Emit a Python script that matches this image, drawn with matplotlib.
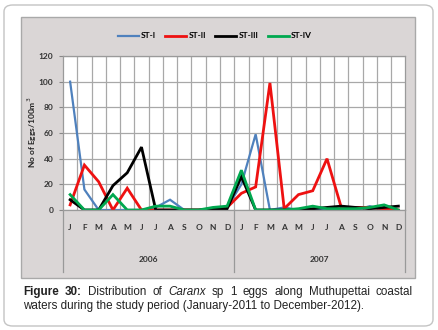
import numpy as np
import matplotlib
matplotlib.use('Agg')
import matplotlib.pyplot as plt
from matplotlib.patches import FancyBboxPatch, Rectangle

# dados
meses = ['J', 'F', 'M', 'A', 'M', 'J', 'J', 'A', 'S', 'O', 'N', 'D'] * 2
anos = ['2006', '2007']
series = ['ST-I', 'ST-II', 'ST-III', 'ST-IV']
st1 = [100, 16, 0, 0, 0, 0, 2, 8, 0, 0, 0, 2, 20, 59, 0, 2, 0, 0, 0, 0, 0, 3, 0, 0]
st2 = [4, 35, 22, 0, 17, 0, 0, 0, 0, 0, 0, 2, 13, 18, 99, 1, 12, 15, 40, 2, 2, 2, 1, 0]
st3 = [8, 0, 0, 19, 29, 49, 0, 0, 0, 0, 1, 1, 26, 0, 0, 0, 0, 1, 2, 3, 2, 1, 2, 3]
st4 = [12, 0, 0, 12, 0, 0, 3, 3, 0, 0, 2, 3, 31, 0, 0, 0, 1, 3, 1, 1, 1, 2, 4, 0]
cores = ['#4f81bd', '#ee1111', '#000000', '#00a84f']
larguras = [1.6, 2.0, 2.0, 2.0]

W, H = 439, 330
fig = plt.figure(figsize=(W / 100, H / 100), dpi=100)
fig.patch.set_facecolor('white')

# moldura arredondada externa
fig.patches.append(FancyBboxPatch((4 / W, 4 / H), 429 / W, 321 / H,
                                  boxstyle='round,pad=0,rounding_size=0.02',
                                  transform=fig.transFigure, facecolor='white',
                                  edgecolor='#c4c4c4', lw=1.0, zorder=-3))
# área cinza do gráfico
fig.patches.append(Rectangle((21 / W, 1 - 278 / H), 394 / W, 261 / H,
                             transform=fig.transFigure, facecolor='#dad6d6',
                             edgecolor='#a9a9a9', lw=1.0, zorder=-2))

ax = fig.add_axes([63 / W, 1 - 210 / H, 342.5 / W, 154 / H])
ax.set_facecolor('white')
x = np.arange(len(meses))
for dados, nome, cor, lw in zip([st1, st2, st3, st4], series, cores, larguras):
    ax.plot(x, dados, color=cor, lw=lw, label=nome, solid_joinstyle='miter')

ax.set_xlim(-0.5, 23.5)
ax.set_ylim(0, 120)
ax.set_yticks(range(0, 121, 20))
ax.set_xticks(x)
ax.set_xticklabels(meses)
ax.set_xticks(np.arange(0.5, 23, 1), minor=True)
ax.set_axisbelow(True)
ax.grid(True, which='major', axis='y', color='#a8a8a8', lw=0.9)
ax.grid(True, which='minor', axis='x', color='#a8a8a8', lw=0.9)
ax.tick_params(axis='x', which='both', length=0, pad=10, labelsize=6, colors='#333333')
ax.tick_params(axis='y', length=3, width=0.8, color='#888888', pad=4, labelsize=6,
               colors='#333333')
for lab in ax.get_xticklabels() + ax.get_yticklabels():
    lab.set_fontweight('bold')
    lab.set_family('Lato')
for s in ax.spines.values():
    s.set_color('#9a9a9a')
    s.set_linewidth(0.9)

# separadores e rótulos dos anos
trans = ax.get_xaxis_transform()
for xs in [-0.5, 11.5, 23.5]:
    ax.plot([xs, xs], [0, -62 / 154], transform=trans, color='#999999', lw=0.9,
            clip_on=False)
for i, ano in enumerate(anos):
    ax.text(5.5 + 12 * i, -49 / 154, ano, transform=trans, ha='center', va='center',
            fontsize=6, fontweight='bold', family='Lato', color='#333333')

fig.text(32 / W, 1 - 132 / H, 'No of Eggs/100m$^3$', rotation=90, ha='center',
         va='center', fontsize=6, fontweight='bold', family='Lato', color='#222222')

fig.legend(loc='center', bbox_to_anchor=(215 / W, 1 - 36 / H), ncol=4, frameon=False,
           prop={'family': 'Lato', 'size': 6, 'weight': 'bold'}, handlelength=2.5,
           columnspacing=1.1, handletextpad=0.3)

# legenda da figura (texto justificado na primeira linha)
palavras = [('Figure', 'bold', 'normal'), ('30:', 'bold', 'normal'),
            ('Distribution', 'normal', 'normal'), ('of', 'normal', 'normal'),
            ('Caranx', 'normal', 'italic'), ('sp', 'normal', 'normal'),
            ('1', 'normal', 'normal'), ('eggs', 'normal', 'normal'),
            ('along', 'normal', 'normal'), ('Muthupettai', 'normal', 'normal'),
            ('coastal', 'normal', 'normal')]
tam = 8.4
x0, x1 = 23, 413
renderer = fig.canvas.get_renderer()
textos = []
for p, peso, estilo in palavras:
    t = fig.text(0, 1 - 292 / H, p, fontsize=tam, fontweight=peso, style=estilo,
                 family='Liberation Sans', va='center', ha='left', color='#222222')
    textos.append(t)
larg = [t.get_window_extent(renderer).width for t in textos]
gap = (x1 - x0 - sum(larg)) / (len(textos) - 1)
pos = x0
for t, w in zip(textos, larg):
    t.set_x(pos / W)
    pos += w + gap
fig.text(x0 / W, 1 - 306 / H,
         'waters during the study period (January-2011 to December-2012).',
         fontsize=tam, family='Liberation Sans', va='center', ha='left', color='#222222')

fig.savefig('out.png', dpi=100)
